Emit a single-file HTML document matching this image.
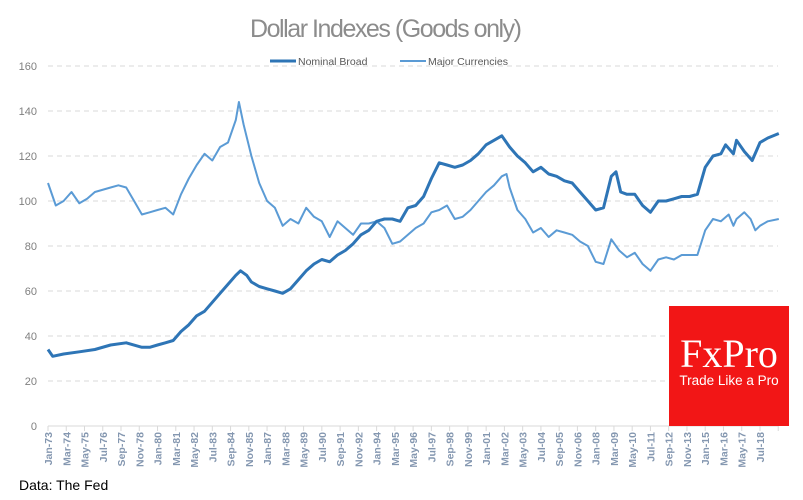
<!DOCTYPE html>
<html><head><meta charset="utf-8"><style>
body{margin:0;background:#fff;}
svg{display:block;font-family:"Liberation Sans",sans-serif;}
</style></head><body>
<svg id="chart" width="803" height="500" viewBox="0 0 803 500">
<text x="386" y="37" text-anchor="middle" font-size="25" fill="#8c8c8c" textLength="272">Dollar Indexes (Goods only)</text>
<g>
<line x1="270" y1="61" x2="296" y2="61" stroke="#2e75b6" stroke-width="3"/>
<text x="298" y="65" font-size="10.5" fill="#595959">Nominal Broad</text>
<line x1="400" y1="61" x2="426" y2="61" stroke="#5b9bd5" stroke-width="2"/>
<text x="428" y="65" font-size="10.5" fill="#595959">Major Currencies</text>
</g>
<g id="grid"></g><g id="yaxis"></g><g id="xaxis"></g><g id="series"></g>
<g>
<rect x="669" y="306" width="120" height="120" fill="#f21616"/>
<text x="729" y="367" text-anchor="middle" font-size="40" fill="#fff" font-family="Liberation Serif,serif">FxPro</text>
<text x="729" y="385" text-anchor="middle" font-size="13.5" fill="#fff">Trade Like a Pro</text>
</g>
<text x="19" y="490" font-size="14" fill="#000">Data: The Fed</text>
</svg>
<script>
const yTicks=[0,20,40,60,80,100,120,140,160];
const broadYears=[1973,1973.3,1974,1975,1976,1977,1978,1979,1979.5,1980,1980.5,1981,1981.5,1982,1982.5,1983,1983.5,1984,1984.5,1985,1985.3,1985.7,1986,1986.5,1987,1987.5,1988,1988.5,1989,1989.5,1990,1990.5,1991,1991.5,1992,1992.5,1993,1993.5,1994,1994.5,1995,1995.5,1996,1996.5,1997,1997.5,1998,1998.5,1999,1999.5,2000,2000.5,2001,2001.5,2002,2002.5,2003,2003.5,2004,2004.5,2005,2005.5,2006,2006.5,2007,2007.5,2008,2008.5,2009,2009.3,2009.6,2010,2010.5,2011,2011.5,2012,2012.5,2013,2013.5,2014,2014.5,2015,2015.5,2016,2016.3,2016.8,2017,2017.5,2018,2018.5,2019,2019.7];
const broadValues=[34,31,32,33,34,36,37,35,35,36,37,38,42,45,49,51,55,59,63,67,69,67,64,62,61,60,59,61,65,69,72,74,73,76,78,81,85,87,91,92,92,91,97,98,102,110,117,116,115,116,118,121,125,127,129,124,120,117,113,115,112,111,109,108,104,100,96,97,111,113,104,103,103,98,95,100,100,101,102,102,103,115,120,121,125,121,127,122,118,126,128,130];
const majorYears=[1973,1973.5,1974,1974.5,1975,1975.5,1976,1977,1977.5,1978,1978.5,1979,1979.5,1980,1980.5,1981,1981.5,1982,1982.5,1983,1983.5,1984,1984.5,1985,1985.2,1985.5,1986,1986.5,1987,1987.5,1988,1988.5,1989,1989.5,1990,1990.5,1991,1991.5,1992,1992.5,1993,1993.5,1994,1994.5,1995,1995.5,1996,1996.5,1997,1997.5,1998,1998.5,1999,1999.5,2000,2000.5,2001,2001.5,2002,2002.3,2002.5,2003,2003.5,2004,2004.5,2005,2005.5,2006,2006.5,2007,2007.5,2008,2008.5,2009,2009.5,2010,2010.5,2011,2011.5,2012,2012.5,2013,2013.5,2014,2014.5,2015,2015.5,2016,2016.5,2016.8,2017,2017.5,2017.9,2018.2,2018.5,2019,2019.7];
const majorValues=[108,98,100,104,99,101,104,106,107,106,100,94,95,96,97,94,103,110,116,121,118,124,126,136,144,134,120,108,100,97,89,92,90,97,93,91,84,91,88,85,90,90,91,88,81,82,85,88,90,95,96,98,92,93,96,100,104,107,111,112,106,96,92,86,88,84,87,86,85,82,80,73,72,83,78,75,77,72,69,74,75,74,76,76,76,87,92,91,94,89,92,95,92,87,89,91,92];
const xLabelMonths=["Jan","Feb","Mar","Apr","May","Jun","Jul","Aug","Sep","Oct","Nov","Dec"];
const NS="http://www.w3.org/2000/svg";
const x0=48,x1=778,yBase=426,pxPerUnit=2.25,pxPerMonth=1.304,tickStep=14;
const xs=yr=>x0+(yr-1973)*12*pxPerMonth;
const ys=v=>yBase-v*pxPerUnit;
function mk(t,a,p){const e=document.createElementNS(NS,t);for(const k in a)e.setAttribute(k,a[k]);p.appendChild(e);return e;}
const grid=document.getElementById('grid'),ya=document.getElementById('yaxis'),xa=document.getElementById('xaxis'),ser=document.getElementById('series');
yTicks.forEach(v=>{
 if(v>0){const g=mk('line',{x1:x0,x2:x1,y1:ys(v),y2:ys(v),stroke:'#d9d9d9','stroke-dasharray':'5,4'},grid);
 
 }
 const t=mk('text',{x:37,y:ys(v)+4,'text-anchor':'end','font-size':'11',fill:'#7f7f7f'},ya);
 t.textContent=v;
 
 
});
const ax=mk('line',{x1:x0,x2:x1,y1:yBase,y2:yBase,stroke:'#d9d9d9'},xa);


for(let m=0;m<=560;m+=tickStep){
 const x=x0+m*pxPerMonth;
 mk('line',{x1:x,x2:x,y1:yBase,y2:yBase+5,stroke:'#d9d9d9'},xa);
 if(m<=546){
 const yr=1973+Math.floor(m/12),mo=m%12;
 const t=mk('text',{transform:`translate(${x+4},${yBase+6}) rotate(-90)`,'text-anchor':'end','font-size':'10.5','font-weight':'bold',fill:'#8497b0'},xa);
 t.textContent=xLabelMonths[mo]+'-'+String(yr%100).padStart(2,'0');
 
 }
}
function path(yrs,vals,color,w,name){
 const d=yrs.map((y,i)=>(i?'L':'M')+xs(y).toFixed(1)+','+ys(vals[i]).toFixed(1)).join('');
 const p=mk('path',{d,fill:'none',stroke:color,'stroke-width':w,'stroke-linejoin':'round'},ser);
 
 
}
path(majorYears,majorValues,'#5b9bd5',2,'major-currencies-line');
path(broadYears,broadValues,'#2e75b6',3,'nominal-broad-line');
</script>
</body></html>
